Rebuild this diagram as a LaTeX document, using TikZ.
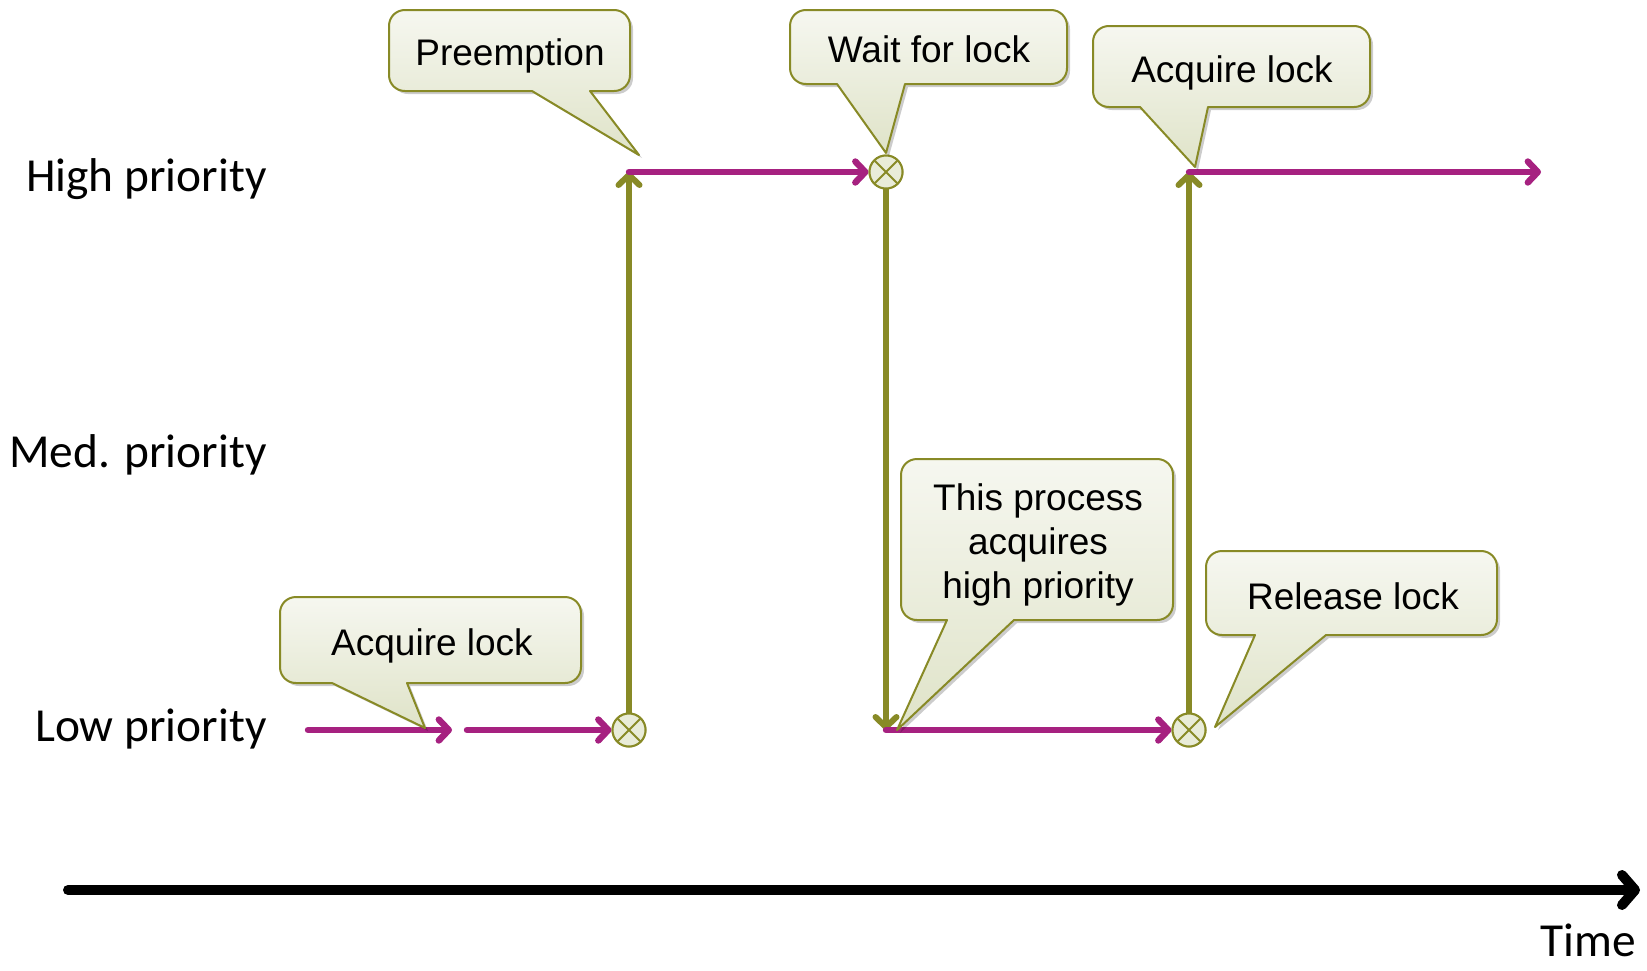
\documentclass[tikz,border=0pt]{standalone}
\usepackage{fontspec}
\setmainfont{Liberation Sans}
\newfontfamily\labfont{Carlito}
\usetikzlibrary{arrows.meta,shadows}
\definecolor{mag}{RGB}{166,33,128}
\definecolor{oli}{RGB}{136,138,38}
\definecolor{ctop}{RGB}{246,247,240}
\definecolor{cbot}{RGB}{223,227,200}
\definecolor{cfill}{RGB}{233,236,216}
% L T R B tail1 tail2 tipx tipy
\newcommand{\mycallout}[8]{%
  \path[callbox] ({#1+16},#2) -- ({#3-16},#2) .. controls ({#3-7},#2) and (#3,{#2+7}) .. (#3,{#2+16})
   -- (#3,{#4-16}) .. controls (#3,{#4-7}) and ({#3-7},#4) .. ({#3-16},#4)
   -- (#6,#4) -- (#7,#8) -- (#5,#4)
   -- ({#1+16},#4) .. controls ({#1+7},#4) and (#1,{#4-7}) .. (#1,{#4-16})
   -- (#1,{#2+16}) .. controls (#1,{#2+7}) and ({#1+7},#2) .. ({#1+16},#2) -- cycle;}
\tikzset{
  callbox/.style={draw=oli, line width=1pt, line join=round, top color=ctop, bottom color=cbot,
    drop shadow={shadow xshift=1.5pt, shadow yshift=-1.5pt, opacity=0.2, fill=black}},
  ctext/.style={font=\fontsize{18.5}{22}\selectfont, inner sep=0pt, anchor=base},
  lab/.style={font=\labfont\fontsize{23.7}{28}\selectfont, inner sep=0pt, anchor=base east},
  magarrow/.style={draw=mag, line width=3.2pt, line cap=round, -{Straight Barb[length=5pt,width=10.5pt,round]}},
  oliarrow/.style={draw=oli, line width=3pt, line cap=round, -{Straight Barb[length=5pt,width=10.5pt,round]}},
  timeax/.style={draw=black, line width=5pt, line cap=round, -{Straight Barb[length=6.5pt,width=15pt,round]}},
  lock/.style={circle, draw=oli, fill=cfill, line width=1pt, minimum size=16.5pt, inner sep=0pt,
    path picture={\draw[oli, line width=1pt]
      ([shift={(-5.6pt,-5.6pt)}]path picture bounding box.center) -- ([shift={(5.6pt,5.6pt)}]path picture bounding box.center)
      ([shift={(-5.6pt,5.6pt)}]path picture bounding box.center) -- ([shift={(5.6pt,-5.6pt)}]path picture bounding box.center);}}
}
\begin{document}
\begin{tikzpicture}[x=0.5pt, y=-0.5pt]
\useasboundingbox (0,0) rectangle (1647,970);
\fill[white] (0,0) rectangle (1647,970);

% row labels
\node[lab] (hp) at (267,191) {High priority};
\node[lab] (mp) at (267,467) {Med. priority};
\node[lab] (lp) at (267,741) {Low priority};

% time axis
\coordinate (t0) at (68,890);
\coordinate (t1) at (1640,890);
\draw[timeax] (t0) -- (t1);
\node[lab] (time) at (1636,956) {Time};

% coordinates
\coordinate (a0) at (308,730);
\coordinate (a1) at (452,730);
\coordinate (a2) at (467,730);
\coordinate (h1) at (629,172);
\coordinate (l2) at (886,730);
\coordinate (h3) at (1189,172);
\coordinate (e)  at (1541,172);

\node[lock] (c1) at (629,730) {};
\node[lock] (c2) at (886,172) {};
\node[lock] (c3) at (1189,730) {};

% vertical transitions
\draw[oliarrow] (c1.north) -- (h1);
\draw[oliarrow] (c2.south) -- (l2);
\draw[oliarrow] (c3.north) -- (h3);

% process lines
\draw[magarrow] (a0) -- (a1);
\draw[magarrow] (a2) -- (c1.west);
\draw[magarrow] (h1) -- (c2.west);
\draw[magarrow] (l2) -- (c3.west);
\draw[magarrow] (h3) -- (e);

\node[lock] at (c1) {};
\node[lock] at (c2) {};
\node[lock] at (c3) {};

% callouts
\mycallout{389}{10}{630}{91}{532}{590}{639}{155}
\node[ctext] (pre) at (510,65) {Preemption};

\mycallout{790}{10}{1067}{84}{837}{905}{886}{153}
\node[ctext] (wait) at (929,62) {Wait for lock};

\mycallout{1093}{26}{1370}{107}{1140}{1208}{1195}{167}
\node[ctext] (acq2) at (1232,82) {Acquire lock};

\mycallout{280}{597}{581}{683}{332}{407}{425}{728}
\node[ctext] (acq1) at (432,655) {Acquire lock};

\mycallout{901}{459}{1173}{620}{947}{1014}{897}{730}
\node[ctext, align=center, anchor=center] (proc) at (1038,545) {This process\\acquires\\high priority};

\mycallout{1206}{551}{1497}{635}{1255}{1326}{1215}{727}
\node[ctext] (rel) at (1353,609) {Release lock};
\end{tikzpicture}
\end{document}
